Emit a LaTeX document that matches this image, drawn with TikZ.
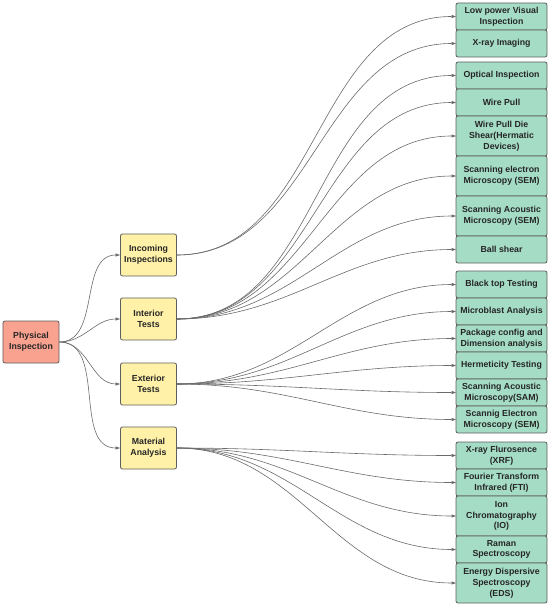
\documentclass[tikz,border=0pt]{standalone}
\usepackage{fontspec}
\setmainfont{Liberation Sans}
\usetikzlibrary{arrows.meta, positioning}
\definecolor{cred}{HTML}{F9A28F}
\definecolor{cyellow}{HTML}{FFF1A8}
\definecolor{cgreen}{HTML}{A4DCC6}
\definecolor{cedge}{HTML}{5E5E5E}
\definecolor{cline}{HTML}{6A6A6A}
\tikzset{
  every picture/.style={font=\fontsize{8.8}{10.8}\selectfont\bfseries, line width=0.8pt},
  box/.style={draw=cedge, fill=#1, rounded corners=2pt, align=center, inner sep=1pt, text=black!85, minimum width=56bp, minimum height=42bp},
  box/.default=cyellow,
  leaf/.style={box=cgreen, minimum width=91bp, minimum height=27bp, outer sep=0pt},
  tall/.style={minimum height=40bp},
  link/.style={-{Triangle[length=4.5pt, width=3pt]}, draw=cline, line width=0.6pt, out=0, in=180},
}

\begin{document}
\begin{tikzpicture}[x=1bp, y=-1bp]
  \useasboundingbox (0,0) rectangle (550,608);
  % root and categories
  \node[box=cred] (root) at (31,342) {Physical\\Inspection};
  \node[box] (inc) at (148.5,255) {Incoming\\Inspections};
  \node[box] (inte) at (148.5,319) {Interior\\Tests};
  \node[box] (ext) at (148.5,384) {Exterior\\Tests};
  \node[box] (mat) at (148.5,448) {Material\\Analysis};
  % incoming
  \node[leaf, anchor=north] (lpvi) at (501.5,3) {Low power Visual\\Inspection};
  \node[leaf, below=0pt of lpvi] (xray) {X-ray Imaging};
  % interior
  \node[leaf, below=5bp of xray] (opt) {Optical Inspection};
  \node[leaf, below=0pt of opt] (wp) {Wire Pull};
  \node[leaf, tall, below=0pt of wp] (wpds) {Wire Pull Die\\Shear(Hermatic\\Devices)};
  \node[leaf, tall, below=0pt of wpds] (sema) {Scanning electron\\Microscopy (SEM)};
  \node[leaf, tall, below=0pt of sema] (sama) {Scanning Acoustic\\Microscopy (SEM)};
  \node[leaf, below=0pt of sama] (bs) {Ball shear};
  % exterior
  \node[leaf, below=8bp of bs] (btt) {Black top Testing};
  \node[leaf, below=0pt of btt] (mba) {Microblast Analysis};
  \node[leaf, below=0pt of mba] (pcd) {Package config and\\Dimension analysis};
  \node[leaf, below=0pt of pcd] (her) {Hermeticity Testing};
  \node[leaf, below=0pt of her] (samb) {Scanning Acoustic\\Microscopy(SAM)};
  \node[leaf, below=0pt of samb] (semb) {Scannig Electron\\Microscopy (SEM)};
  % material
  \node[leaf, below=9bp of semb] (xrf) {X-ray Flurosence\\(XRF)};
  \node[leaf, below=0pt of xrf] (fti) {Fourier Transform\\Infrared (FTI)};
  \node[leaf, tall, below=0pt of fti] (ion) {Ion\\Chromatography\\(IO)};
  \node[leaf, below=0pt of ion] (ram) {Raman\\Spectroscopy};
  \node[leaf, tall, below=0pt of ram] (eds) {Energy Dispersive\\Spectroscopy\\(EDS)};
  % links
  \foreach \c in {inc, inte, ext, mat} \draw[link] (root.east) to (\c.west);
  \foreach \t in {lpvi, xray} \draw[link] (inc.east) to (\t.west);
  \foreach \t in {opt, wp, wpds, sema, sama, bs} \draw[link] (inte.east) to (\t.west);
  \foreach \t in {btt, mba, pcd, her, samb, semb} \draw[link] (ext.east) to (\t.west);
  \foreach \t in {xrf, fti, ion, ram, eds} \draw[link] (mat.east) to (\t.west);
\end{tikzpicture}
\end{document}
